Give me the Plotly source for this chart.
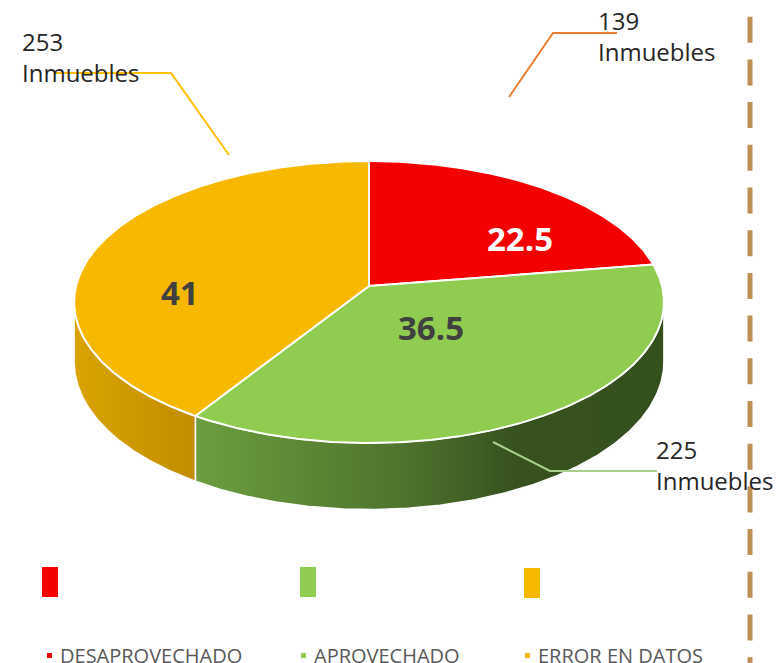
import numpy as np
import plotly.graph_objects as go

# ---- data ----
categories = ["DESAPROVECHADO", "APROVECHADO", "ERROR EN DATOS"]
percent = [22.5, 36.5, 41]
counts = [139, 225, 253]
count_suffix = "Inmuebles"

top_colors = ["#f50000", "#8fcc4f", "#f7b900"]
side_scales = [
    [[0, "#c00000"], [1, "#800000"]],
    [[0, "#6c9e3e"], [0.45, "#4e722d"], [0.68, "#37521f"], [1, "#34501d"]],
    [[0, "#d9a400"], [1, "#c28d00"]],
]
label_colors = ["white", "#404040", "#404040"]
leader_colors = ["#ed7d31", "#a9d18e", "#ffc000"]

W, H = 782, 663
OFF = 8  # page body margin
FONT = "Open Sans"

# ---- perspective pie geometry ----
CX, CY = 369, 286
RX, RY = 293, 139.2
A = 0.1135   # perspective strength
T = 59       # thickness


def proj(theta_deg, r=1.0):
    th = np.radians(theta_deg)
    u = r * np.sin(th)
    v = -r * np.cos(th)
    k = 1.0 / (1.0 - A * v)
    return CX + RX * u * k, CY + RY * v * k, k


total = float(sum(percent))
bounds = np.concatenate([[0], np.cumsum(percent) / total * 360.0])

fig = go.Figure()

# side walls (visible front part)
vis_a = np.degrees(np.arccos(-A))
vis_b = 360 - vis_a
for i in range(len(percent)):
    a, b = max(bounds[i], vis_a), min(bounds[i + 1], vis_b)
    if b <= a:
        continue
    ths = np.linspace(a, b, 200)
    xt, yt, kt = proj(ths)
    yb = yt + T * kt
    xs = np.concatenate([xt, xt[::-1], [xt[0]]])
    ys = np.concatenate([yt, yb[::-1], [yt[0]]])
    fig.add_trace(go.Scatter(
        x=xs, y=ys, mode="lines", fill="toself",
        fillgradient=dict(type="horizontal", colorscale=side_scales[i]),
        line=dict(color="white", width=1.5), hoverinfo="skip", showlegend=False))

# top faces
for i in range(len(percent)):
    ths = np.linspace(bounds[i], bounds[i + 1], 300)
    xa, ya, _ = proj(ths)
    xs = np.concatenate([[CX], xa, [CX]])
    ys = np.concatenate([[CY], ya, [CY]])
    fig.add_trace(go.Scatter(
        x=xs, y=ys, mode="lines", fill="toself", fillcolor=top_colors[i],
        line=dict(color="white", width=2), hoverinfo="skip",
        name=categories[i], showlegend=False))

# in-slice value labels
label_pos = [(520, 238), (431, 327), (180, 292)]
for i, (lx, ly) in enumerate(label_pos):
    fig.add_annotation(x=lx, y=ly, text=f"<b>{percent[i]:g}</b>", showarrow=False,
                       font=dict(family=FONT, size=33, color=label_colors[i]),
                       xanchor="center", yanchor="middle")

# callout labels with leader lines
leaders = [
    "M509,97 L553,33 L617,33",
    "M493,442 L550,471 L657,471",
    "M55,73 L171,73 L229,155",
]
callout_pos = [(597, 36), (655, 465), (21, 57)]
for i in range(len(counts)):
    fig.add_shape(type="path", path=leaders[i], line=dict(color=leader_colors[i], width=2),
                  xref="x", yref="y")
    cx, cy = callout_pos[i]
    fig.add_annotation(x=cx, y=cy, text=f"{counts[i]}<br>{count_suffix}", showarrow=False,
                       font=dict(family=FONT, size=24, color="#262626"),
                       xanchor="left", yanchor="middle", align="left", borderpad=0)

# colored blocks
block_x = [42, 300, 524]
for i, bx in enumerate(block_x):
    fig.add_shape(type="rect", x0=bx, x1=bx + 16, y0=567 + (1 if i == 2 else 0),
                  y1=597 + (1 if i == 2 else 0), fillcolor=top_colors[i], line_width=0,
                  xref="x", yref="y")

# legend
leg_x = [47, 301, 525]
for i, lxp in enumerate(leg_x):
    fig.add_shape(type="rect", x0=lxp, x1=lxp + 5, y0=653, y1=658,
                  fillcolor=top_colors[i], line_width=0, xref="x", yref="y")
    fig.add_annotation(x=lxp + 12, y=655, text=categories[i], showarrow=False,
                       font=dict(family=FONT, size=20, color="#595959"),
                       xanchor="left", yanchor="middle", borderpad=0)

# dashed vertical divider
fig.add_shape(type="line", x0=750, x1=750, y0=-26, y1=H + 20,
              line=dict(color="#bf9055", width=5, dash="26px,16.7px"), xref="x", yref="y")

fig.update_layout(
    width=W - OFF, height=H - OFF, margin=dict(l=0, r=0, t=0, b=0),
    paper_bgcolor="white", plot_bgcolor="white",
    xaxis=dict(range=[OFF, W], visible=False, fixedrange=True),
    yaxis=dict(range=[H, OFF], visible=False, fixedrange=True),
    showlegend=False,
)

fig.write_html("out.html")
